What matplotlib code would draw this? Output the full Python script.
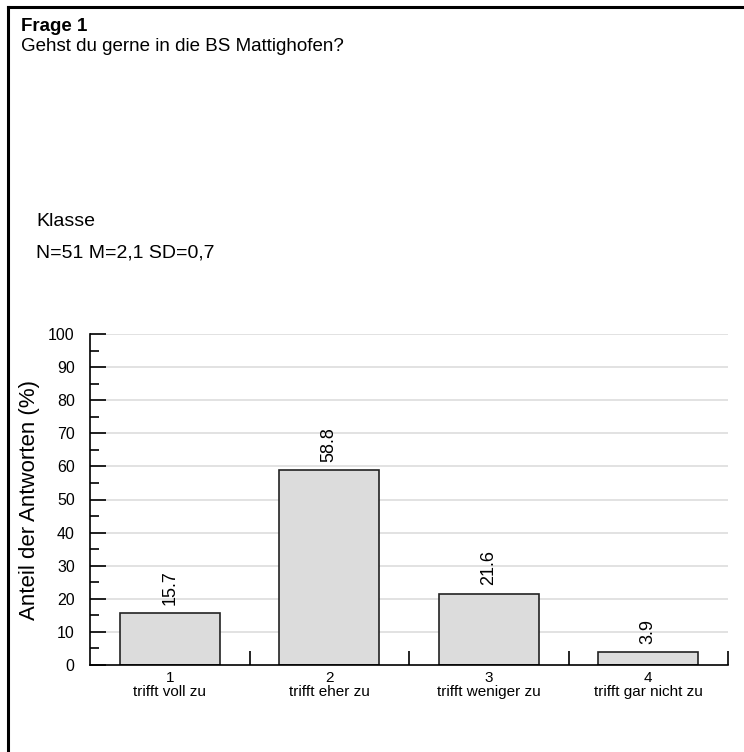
import matplotlib
matplotlib.use("Agg")
import matplotlib.pyplot as plt
from matplotlib.lines import Line2D

plt.rcParams['font.family'] = ['Liberation Sans', 'DejaVu Sans']

# data
codes = [1, 2, 3, 4]
answers = ["trifft voll zu", "trifft eher zu", "trifft weniger zu", "trifft gar nicht zu"]
shares = [15.7, 58.8, 21.6, 3.9]
title = "Frage 1"
question = "Gehst du gerne in die BS Mattighofen?"
group = "Klasse"
stats = "N=51 M=2,1 SD=0,7"

W, H = 744, 752
fig = plt.figure(figsize=(W / 100, H / 100), dpi=100)
ax = fig.add_axes([90 / W, 1 - 665 / H, 638 / W, 331 / H])

# outer frame (left + top)
fig.add_artist(Line2D([8 / W, 8 / W], [0, 1 - 7 / H], color="black", lw=2.2,
                      transform=fig.transFigure))
fig.add_artist(Line2D([8 / W, 1], [1 - 7 / H, 1 - 7 / H], color="black", lw=2.2,
                      transform=fig.transFigure))

fig.text(21 / W, 1 - 31 / H, title, fontsize=13.5, fontweight="bold", va="baseline")
fig.text(21 / W, 1 - 51 / H, question, fontsize=13.5, va="baseline")
fig.text(36 / W, 1 - 222 / H, group, fontsize=14, va="center")
fig.text(36 / W, 1 - 253 / H, stats, fontsize=14, va="center")

for y in range(10, 101, 10):
    ax.axhline(y, color="#dddddd", lw=1.2, zorder=0)

ax.bar(codes, shares, width=0.63, color="#dcdcdc", edgecolor="#222222",
       linewidth=1.2, zorder=2)
for x, v in zip(codes, shares):
    ax.annotate(f"{v:.1f}", (x, v), xytext=(0, 6), textcoords="offset points",
                rotation=90, ha="center", va="bottom", fontsize=13)

ax.set_xlim(0.5, 4.5)
ax.set_ylim(0, 100)
ax.set_yticks(range(0, 101, 10))
ax.set_yticks(range(5, 100, 10), minor=True)
ax.tick_params(axis="y", which="major", direction="in", length=11.5, width=1.2,
               labelsize=11.5, pad=11)
ax.tick_params(axis="y", which="minor", direction="in", length=6.5, width=1.2)

ax.set_xticks(codes)
ax.set_xticklabels([f"{c}\n{a}" for c, a in zip(codes, answers)], fontsize=11,
                   linespacing=1.05)
ax.set_xticks([1.5, 2.5, 3.5, 4.5], minor=True)
ax.tick_params(axis="x", which="major", length=0, pad=4)
ax.tick_params(axis="x", which="minor", direction="in", length=10, width=1.2)

for s in ["top", "right"]:
    ax.spines[s].set_visible(False)
for s in ["left", "bottom"]:
    ax.spines[s].set_linewidth(1.2)

ax.set_ylabel("Anteil der Antworten (%)", fontsize=16)
ax.yaxis.set_label_coords(-0.078, 0.5)

fig.savefig("out.png", dpi=100)
